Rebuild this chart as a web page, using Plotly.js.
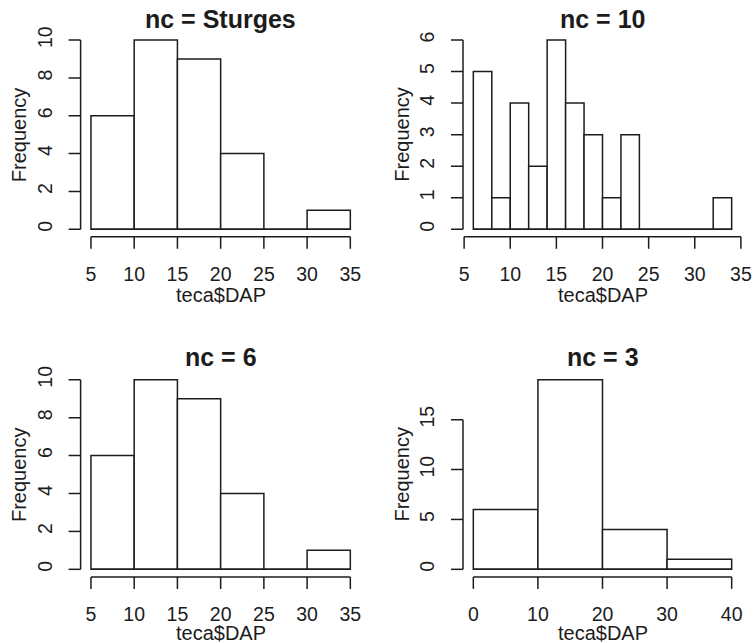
<!DOCTYPE html>
<html>
<head>
<meta charset="utf-8">
<script src="https://cdn.plot.ly/plotly-3.0.1.min.js"></script>
<style>
  html, body { margin: 0; padding: 0; background: #ffffff; }
  #chart { width: 754px; height: 643px; }
</style>
</head>
<body>
<div id="chart"></div>
<script>
// Histograms of teca$DAP with different class counts (nc)
const titles = ['nc = Sturges', 'nc = 10', 'nc = 6', 'nc = 3'];

// Sturges
const breaksSturges = [5, 10, 15, 20, 25, 30, 35];
const countsSturges = [6, 10, 9, 4, 0, 1];
const xTicksSturges = [5, 10, 15, 20, 25, 30, 35];
const yTicksSturges = [0, 2, 4, 6, 8, 10];

// nc = 10
const breaks10 = [6, 8, 10, 12, 14, 16, 18, 20, 22, 24, 26, 28, 30, 32, 34];
const counts10 = [5, 1, 4, 2, 6, 4, 3, 1, 3, 0, 0, 0, 0, 1];
const xTicks10 = [5, 10, 15, 20, 25, 30, 35];
const yTicks10 = [0, 1, 2, 3, 4, 5, 6];

// nc = 6
const breaks6 = [5, 10, 15, 20, 25, 30, 35];
const counts6 = [6, 10, 9, 4, 0, 1];
const xTicks6 = [5, 10, 15, 20, 25, 30, 35];
const yTicks6 = [0, 2, 4, 6, 8, 10];

// nc = 3
const breaks3 = [0, 10, 20, 30, 40];
const counts3 = [6, 19, 4, 1];
const xTicks3 = [0, 10, 20, 30, 40];
const yTicks3 = [0, 5, 10, 15];

const xLabel = 'teca$DAP';
const yLabel = 'Frequency';

const panels = [
  {breaks: breaksSturges, counts: countsSturges, xt: xTicksSturges, yt: yTicksSturges},
  {breaks: breaks10, counts: counts10, xt: xTicks10, yt: yTicks10},
  {breaks: breaks6, counts: counts6, xt: xTicks6, yt: yTicks6},
  {breaks: breaks3, counts: counts3, xt: xTicks3, yt: yTicks3}
];

const W = 754, H = 643;
const INK = '#1c1c1c';
const FONT = 'Liberation Sans, Arial, Helvetica, sans-serif';
const LW = 1.5;
const TICK = 12;          // visible tick length (px)
const xLabelOffset = 20;  // spacing used to place x tick labels
const yLabelOffset = 20;  // spacing used to place y tick labels

// plot-region placement (pixels) for the 2x2 grid
const colPx = [[80.6, 360.7], [463, 742]];
const rowPx = [[32.5, 236.8], [372.2, 576.9]];
const titleY = [19, 357];
const xLabelY = [295, 633];
const yLabelX = [18.5, 402];

// 4% range padding, like R's default axis style
function padRange(lo, hi) {
  const d = (hi - lo) * 0.04;
  return [lo - d, hi + d];
}

const data = [];
const layout = {
  width: W, height: H,
  margin: {l: 0, r: 0, t: 0, b: 0},
  paper_bgcolor: '#ffffff',
  plot_bgcolor: '#ffffff',
  showlegend: false,
  font: {family: FONT, color: INK, size: 19.5},
  shapes: [],
  annotations: []
};

const lineStyle = {color: INK, width: LW};

panels.forEach((p, i) => {
  const n = i + 1;
  const sfx = n === 1 ? '' : String(n);
  const xa = 'x' + sfx, ya = 'y' + sfx;
  const col = i % 2, row = Math.floor(i / 2);

  const mids = [], widths = [];
  for (let k = 0; k < p.counts.length; k++) {
    mids.push((p.breaks[k] + p.breaks[k + 1]) / 2);
    widths.push(p.breaks[k + 1] - p.breaks[k]);
  }

  data.push({
    type: 'bar',
    x: mids,
    y: p.counts,
    width: widths,
    xaxis: xa, yaxis: ya,
    marker: {color: '#ffffff', line: lineStyle},
    hoverinfo: 'skip'
  });

  const bLo = p.breaks[0], bHi = p.breaks[p.breaks.length - 1];
  const cMax = Math.max.apply(null, p.counts);

  // axis tick marks are drawn as shapes below; the axis ticks only space the labels
  const common = {
    showgrid: false, zeroline: false, showline: false,
    ticks: 'outside', tickwidth: 0, tickcolor: 'rgba(0,0,0,0)',
    tickfont: {family: FONT, size: 19.5, color: INK},
    tickmode: 'array',
    fixedrange: true
  };

  layout['xaxis' + sfx] = Object.assign({}, common, {
    domain: [colPx[col][0] / W, colPx[col][1] / W],
    anchor: ya,
    range: padRange(bLo, bHi),
    tickvals: p.xt,
    ticktext: p.xt.map(String),
    ticklen: xLabelOffset
  });
  layout['yaxis' + sfx] = Object.assign({}, common, {
    domain: [1 - rowPx[row][1] / H, 1 - rowPx[row][0] / H],
    anchor: xa,
    range: padRange(0, cMax),
    tickvals: p.yt,
    ticktext: p.yt.map(String),
    tickangle: -90,
    ticklen: yLabelOffset
  });

  // axis lines spanning first to last tick
  layout.shapes.push({
    type: 'line', xref: xa, yref: ya + ' domain',
    x0: p.xt[0], x1: p.xt[p.xt.length - 1], y0: 0, y1: 0,
    line: lineStyle
  });
  layout.shapes.push({
    type: 'line', xref: xa + ' domain', yref: ya,
    x0: 0, x1: 0, y0: p.yt[0], y1: p.yt[p.yt.length - 1],
    line: lineStyle
  });
  // tick marks
  p.xt.forEach(t => {
    layout.shapes.push({
      type: 'line', xref: xa, yref: ya + ' domain',
      ysizemode: 'pixel', yanchor: 0,
      x0: t, x1: t, y0: 0, y1: -TICK,
      line: lineStyle
    });
  });
  p.yt.forEach(t => {
    layout.shapes.push({
      type: 'line', xref: xa + ' domain', yref: ya,
      xsizemode: 'pixel', xanchor: 0,
      x0: 0, x1: -TICK, y0: t, y1: t,
      line: lineStyle
    });
  });
  // common baseline of the bars (covers empty classes)
  layout.shapes.push({
    type: 'line', xref: xa, yref: ya,
    x0: bLo, x1: bHi, y0: 0, y1: 0,
    line: lineStyle
  });

  // panel title
  layout.annotations.push({
    text: '<b>' + titles[i] + '</b>',
    xref: xa + ' domain', x: 0.5, xanchor: 'center',
    yref: 'paper', y: 1 - titleY[row] / H, yanchor: 'middle',
    showarrow: false,
    font: {family: FONT, size: 25, color: INK}
  });
  // x axis title
  layout.annotations.push({
    text: xLabel,
    xref: xa + ' domain', x: 0.5, xanchor: 'center',
    yref: 'paper', y: 1 - xLabelY[row] / H, yanchor: 'middle',
    showarrow: false,
    font: {family: FONT, size: 20, color: INK}
  });
  // y axis title
  layout.annotations.push({
    text: yLabel,
    xref: 'paper', x: yLabelX[col] / W, xanchor: 'center',
    yref: ya + ' domain', y: 0.5, yanchor: 'middle',
    textangle: -90,
    showarrow: false,
    font: {family: FONT, size: 20, color: INK}
  });
});

Plotly.newPlot('chart', data, layout, {staticPlot: true, displayModeBar: false});
</script>
</body>
</html>
